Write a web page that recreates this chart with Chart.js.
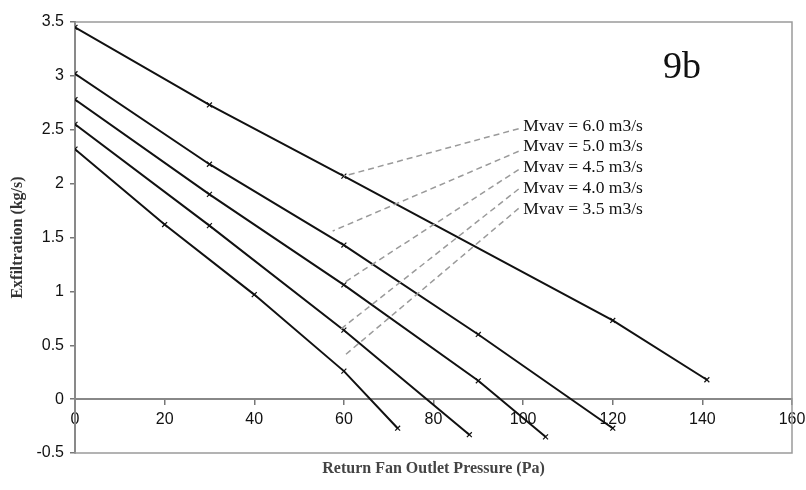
<!DOCTYPE html>
<html lang="en">
<head>
    <meta charset="UTF-8">
    <title>Exfiltration 9b</title>
    <script src="https://cdn.jsdelivr.net/npm/chart.js"></script>
    <style>
        body {
            margin: 0;
            padding: 0;
            background: #fff;
        }

        #box {
            width: 806px;
            height: 490px;
        }
    </style>
</head>
<body>
    <div id="box"><canvas id="grafico"></canvas></div>

    <script>
        // values
        var rotulos = ["Mvav = 6.0 m3/s", "Mvav = 5.0 m3/s", "Mvav = 4.5 m3/s", "Mvav = 4.0 m3/s", "Mvav = 3.5 m3/s"];
        var pressao = [
            [0, 30, 60, 120, 141],
            [0, 30, 60, 90, 120],
            [0, 30, 60, 90, 105],
            [0, 30, 60, 88],
            [0, 20, 40, 60, 72]
        ];
        var exfiltracao = [
            [3.45, 2.73, 2.07, 0.73, 0.18],
            [3.02, 2.18, 1.43, 0.60, -0.27],
            [2.78, 1.90, 1.06, 0.17, -0.35],
            [2.55, 1.61, 0.64, -0.33],
            [2.32, 1.62, 0.97, 0.26, -0.27]
        ];
        // dashed leaders: from label to curve
        var rotuloX = 100;
        var rotuloY = [2.53, 2.35, 2.155, 1.96, 1.765];
        var guiaInicioX = 99;
        var guiaInicioY = [2.51, 2.30, 2.13, 1.95, 1.77];
        var guiaFimX = [60, 57.5, 60, 59, 60];
        var guiaFimY = [2.07, 1.56, 1.08, 0.64, 0.40];
        var ticksX = [0, 20, 40, 60, 80, 100, 120, 140, 160];
        var ticksY = [-0.5, 0, 0.5, 1, 1.5, 2, 2.5, 3, 3.5];

        var datasets = [];

        rotulos.forEach(function(r, i) {
            datasets.push({
                label: "guia " + r,
                data: [{ x: guiaInicioX, y: guiaInicioY[i] }, { x: guiaFimX[i], y: guiaFimY[i] }],
                borderColor: '#9a9a9a',
                borderWidth: 1.5,
                borderDash: [6, 4],
                pointRadius: 0
            });
        });

        rotulos.forEach(function(r, i) {
            datasets.push({
                label: r,
                data: pressao[i].map(function(p, j) { return { x: p, y: exfiltracao[i][j] }; }),
                borderColor: '#111',
                borderWidth: 2,
                pointStyle: 'crossRot',
                pointRadius: 3.5,
                pointBorderColor: '#111',
                pointBorderWidth: 1.2
            });
        });

        var moldura = {
            id: 'moldura',
            beforeDatasetsDraw: function(chart) {
                var a = chart.chartArea, ctx = chart.ctx;
                ctx.save();
                ctx.strokeStyle = '#9a9a9a';
                ctx.lineWidth = 1.5;
                ctx.strokeRect(a.left, a.top, a.right - a.left, a.bottom - a.top);
                ctx.restore();
            },
            afterDraw: function(chart) {
                var a = chart.chartArea, ctx = chart.ctx;
                var sx = chart.scales.x, sy = chart.scales.y;
                ctx.save();
                ctx.fillStyle = '#111';
                ctx.textBaseline = 'middle';
                ctx.textAlign = 'left';
                ctx.font = '17.5px "Liberation Serif"';
                rotulos.forEach(function(r, i) {
                    ctx.fillText(r, sx.getPixelForValue(rotuloX), sy.getPixelForValue(rotuloY[i]));
                });
                ctx.font = '38px "Liberation Serif"';
                ctx.textBaseline = 'alphabetic';
                ctx.fillText("9b", 663, 78);
                ctx.font = 'bold 16px "Liberation Serif"';
                ctx.fillStyle = '#444';
                ctx.textAlign = 'center';
                ctx.textBaseline = 'middle';
                ctx.fillText("Return Fan Outlet Pressure (Pa)", (a.left + a.right) / 2, 469);
                ctx.restore();
            }
        };

        new Chart(document.getElementById("grafico"), {
            type: 'line',
            data: { datasets: datasets },
            plugins: [moldura],
            options: {
                responsive: true,
                maintainAspectRatio: false,
                animation: false,
                layout: { padding: { left: 0, right: 14, top: 22, bottom: 37 } },
                plugins: {
                    legend: { display: false },
                    tooltip: { enabled: false }
                },
                scales: {
                    x: {
                        type: 'linear',
                        position: { y: 0 },
                        min: 0,
                        max: 160,
                        afterBuildTicks: function(s) { s.ticks = ticksX.map(function(v) { return { value: v }; }); },
                        afterFit: function(s) { s.paddingLeft = 0; s.paddingRight = 0; },
                        grid: { drawOnChartArea: false, drawTicks: true, tickLength: 5, color: '#777', lineWidth: 1.5 },
                        border: { color: '#888', width: 2 },
                        ticks: {
                            padding: 6,
                            color: '#111',
                            font: { family: '"Liberation Sans"', size: 16 }
                        }
                    },
                    y: {
                        type: 'linear',
                        position: 'left',
                        min: -0.5,
                        max: 3.5,
                        afterBuildTicks: function(s) { s.ticks = ticksY.map(function(v) { return { value: v }; }); },
                        afterFit: function(s) { s.width = 75; },
                        grid: { drawOnChartArea: false, drawTicks: true, tickLength: 5, color: '#777', lineWidth: 1.5 },
                        border: { color: '#555', width: 2 },
                        title: {
                            display: true,
                            text: 'Exfiltration (kg/s)',
                            color: '#333',
                            padding: { top: 8, bottom: 0 },
                            font: { family: '"Liberation Serif"', size: 16, weight: 'bold' }
                        },
                        ticks: {
                            padding: 6,
                            color: '#111',
                            font: { family: '"Liberation Sans"', size: 16 },
                            callback: function(v) { return String(v); }
                        }
                    }
                }
            }
        });
    </script>
</body>
</html>
